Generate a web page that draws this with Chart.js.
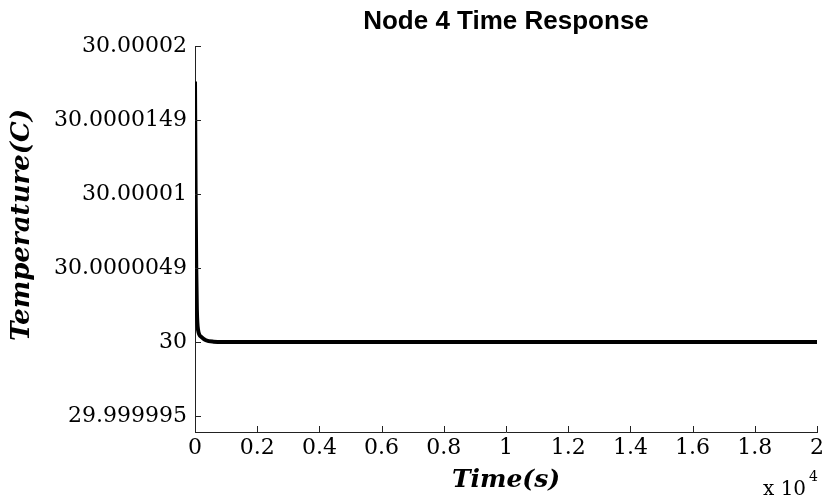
<!DOCTYPE html>
<html>
<head>
<meta charset="utf-8">
<script src="https://cdn.jsdelivr.net/npm/chart.js@4/dist/chart.umd.min.js"></script>
<style>
  html, body { margin: 0; padding: 0; background: #fff; }
  #wrap { width: 827px; height: 502px; }
</style>
</head>
<body>
<div id="wrap"><canvas id="chart" width="827" height="502"></canvas></div>
<script>
// time in units of 1e4 s, temperature in C
const timeData = [0, 0.002, 0.004, 0.006, 0.01, 0.02, 0.035, 0.06, 0.09, 2];
const tempData = [30.0000176, 30.00001, 30.000005, 30.0000022, 30.0000008, 30.00000035, 30.00000012, 30.00000002, 30, 30];

const xTickValues = [0, 0.2, 0.4, 0.6, 0.8, 1, 1.2, 1.4, 1.6, 1.8, 2];
const xTickLabels = ['0', '0.2', '0.4', '0.6', '0.8', '1', '1.2', '1.4', '1.6', '1.8', '2'];
const yTickValues = [29.999995, 30, 30.000005, 30.00001, 30.000015, 30.00002];
const yTickLabels = ['29.999995', '30', '30.0000049', '30.00001', '30.0000149', '30.00002'];

const tickFont = { family: 'DejaVu Serif', size: 22 };

// inward tick marks, title, axis titles and the x10^4 note
const decorations = {
	id: 'decorations',
	afterDraw(chart) {
		const ctx = chart.ctx;
		const area = chart.chartArea;
		const xs = chart.scales.x;
		const ys = chart.scales.y;
		ctx.save();
		ctx.strokeStyle = '#222';
		ctx.lineWidth = 1;
		ctx.beginPath();
		for (const t of xs.ticks) {
			const px = Math.round(xs.getPixelForValue(t.value)) + 0.5;
			ctx.moveTo(px, area.bottom);
			ctx.lineTo(px, area.bottom - 6);
		}
		for (const t of ys.ticks) {
			const py = Math.round(ys.getPixelForValue(t.value)) + 0.5;
			ctx.moveTo(area.left, py);
			ctx.lineTo(area.left + 6, py);
		}
		ctx.stroke();

		ctx.fillStyle = '#000';
		ctx.textAlign = 'center';
		ctx.textBaseline = 'middle';
		ctx.font = 'bold 26px "Liberation Sans"';
		ctx.fillText('Node 4 Time Response', (area.left + area.right) / 2, 22);

		ctx.font = 'italic bold 25px "DejaVu Serif"';
		ctx.fillText('Time(s)', (area.left + area.right) / 2, 480);

		ctx.save();
		ctx.translate(22, 225);
		ctx.rotate(-Math.PI / 2);
		ctx.font = 'italic bold 26px "DejaVu Serif"';
		ctx.fillText('Temperature(C)', 0, 0);
		ctx.restore();

		ctx.textAlign = 'left';
		ctx.font = '20px "DejaVu Serif"';
		ctx.fillText('x 10', 763, 490);
		ctx.font = '14px "DejaVu Serif"';
		ctx.fillText('4', 809, 477);
		ctx.restore();
	}
};

new Chart(document.getElementById('chart'), {
	type: 'line',
	data: {
		datasets: [
			{
				data: timeData.map((t, i) => ({ x: t, y: tempData[i] })),
				borderColor: '#000',
				borderWidth: 4,
				pointRadius: 0,
				cubicInterpolationMode: 'monotone',
				fill: false,
			},
		],
	},
	options: {
		responsive: false,
		animation: false,
		layout: { padding: { top: 46, right: 8, left: 0, bottom: 0 } },
		plugins: {
			legend: { display: false },
			title: { display: false },
			tooltip: { enabled: false },
		},
		scales: {
			x: {
				type: 'linear',
				min: 0,
				max: 2,
				grid: { display: true, drawOnChartArea: false, drawTicks: false },
				border: { display: true, color: '#222', width: 1 },
				afterBuildTicks: (scale) => {
					scale.ticks = xTickValues.map((v) => ({ value: v }));
				},
				afterFit: (scale) => {
					scale.height = 70;
				},
				ticks: {
					color: '#000',
					font: tickFont,
					padding: 3,
					maxRotation: 0,
					autoSkip: false,
					callback: (value, index) => xTickLabels[index],
				},
			},
			y: {
				type: 'linear',
				min: 29.99999392,
				max: 30.00002,
				grid: { display: true, drawOnChartArea: false, drawTicks: false },
				border: { display: true, color: '#222', width: 1 },
				afterBuildTicks: (scale) => {
					scale.ticks = yTickValues.map((v) => ({ value: v }));
				},
				afterFit: (scale) => {
					scale.width = 195;
				},
				ticks: {
					color: '#000',
					font: tickFont,
					padding: 8,
					autoSkip: false,
					callback: (value, index) => yTickLabels[index],
				},
			},
		},
	},
	plugins: [decorations],
});
</script>
</body>
</html>
